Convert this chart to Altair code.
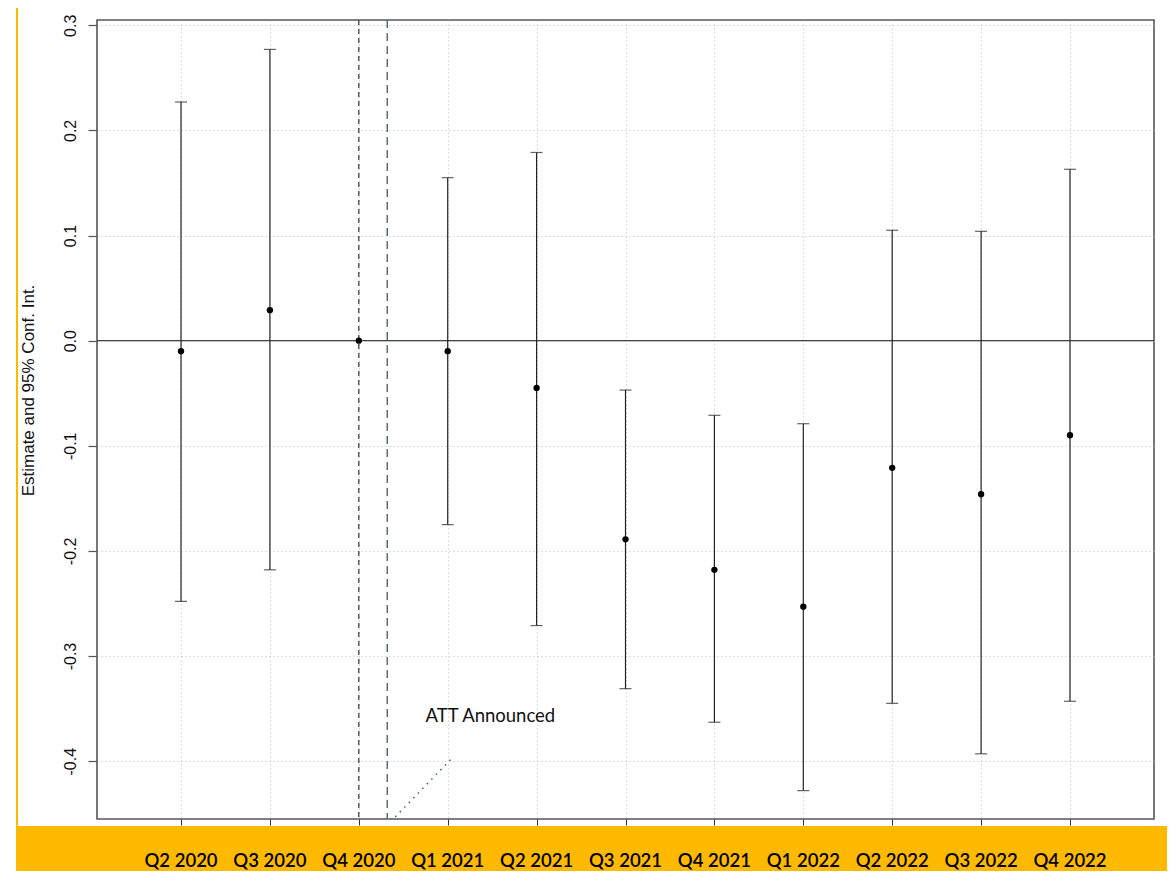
import altair as alt
import pandas as pd
import numpy as np

# ---- data ----
periods = ["Q2 2020", "Q3 2020", "Q4 2020", "Q1 2021", "Q2 2021", "Q3 2021",
           "Q4 2021", "Q1 2022", "Q2 2022", "Q3 2022", "Q4 2022"]
estimate = [-0.010, 0.029, 0.000, -0.010, -0.045, -0.189, -0.218, -0.253, -0.121, -0.146, -0.090]
lower = [-0.248, -0.218, np.nan, -0.175, -0.271, -0.331, -0.363, -0.428, -0.345, -0.393, -0.343]
upper = [0.227, 0.277, np.nan, 0.155, 0.179, -0.047, -0.071, -0.079, 0.105, 0.104, 0.163]
y_ticks = [-0.4, -0.3, -0.2, -0.1, 0.0, 0.1, 0.2, 0.3]

ref_period_idx = [2.0]          # Q4 2020 reference line
att_idx = [2.32]                # ATT announcement line
ann_text = ["ATT Announced"]
ann_pos = [(3.48, -0.357)]
ann_line = [(2.41, -0.453), (3.05, -0.397)]

df = pd.DataFrame({"idx": list(range(len(periods))), "period": periods,
                   "est": estimate, "lo": lower, "hi": upper})
ci = df.dropna()

W, H = 1057, 799
x_dom = [-0.945, 10.945]
y_dom = [-0.455, 0.305]

xs = alt.Scale(domain=x_dom, nice=False, zero=False)
ys = alt.Scale(domain=y_dom, nice=False, zero=False)

x_axis = alt.Axis(values=list(range(len(periods))), labels=False, title=None,
                  domain=False, tickSize=6, tickColor="#333", tickWidth=1,
                  grid=True, gridColor="#bdbdbd", gridDash=[1, 3], gridWidth=1)
y_axis = alt.Axis(values=y_ticks, title="Estimate and 95% Conf. Int.",
                  labelExpr="replace(format(datum.value, '.1f'), '\u2212', '-')",
                  labelAngle=270, labelAlign="center", labelBaseline="bottom",
                  labelPadding=10, labelFont="Liberation Sans", labelFontSize=16,
                  labelColor="#111",
                  domain=False, tickSize=9, tickColor="#555", tickWidth=1.2,
                  grid=True, gridColor="#bdbdbd", gridDash=[1, 3], gridWidth=1,
                  titleFont="Liberation Sans", titleFontSize=17, titleFontWeight="normal",
                  titleColor="#111", titleAngle=270, titleAlign="center",
                  titleBaseline="bottom", titleX=-60, titleY=370)

base = alt.Chart(df)

yellow = "#FFB900"
band = alt.Chart(pd.DataFrame({"k": [0]})).mark_rect(color=yellow, clip=False).encode(
    x=alt.value(-81), x2=alt.value(W + 13), y=alt.value(806), y2=alt.value(851))
vline_left = alt.Chart(pd.DataFrame({"k": [0]})).mark_rect(color=yellow, clip=False).encode(
    x=alt.value(-81), x2=alt.value(-79), y=alt.value(-12), y2=alt.value(851))

zero = alt.Chart(pd.DataFrame({"y": [0.0]})).mark_rule(color="#444", strokeWidth=1.3).encode(
    y=alt.Y("y:Q", scale=ys, axis=y_axis))

ref1 = alt.Chart(pd.DataFrame({"x": ref_period_idx})).mark_rule(
    color="#444", strokeDash=[5, 4], strokeWidth=1.3).encode(
    x=alt.X("x:Q", scale=xs, axis=x_axis))
ref2 = alt.Chart(pd.DataFrame({"x": att_idx})).mark_rule(
    color="#5a6a85", strokeDash=[8, 5], strokeWidth=1.5).encode(
    x=alt.X("x:Q", scale=xs))

ann_df = pd.DataFrame({"x": [p[0] for p in ann_line], "y": [p[1] for p in ann_line]})
ann_l = alt.Chart(ann_df).mark_line(color="#4a5a70", strokeDash=[1.5, 5], strokeWidth=1.5).encode(
    x=alt.X("x:Q", scale=xs), y=alt.Y("y:Q", scale=ys))
ann_t = alt.Chart(pd.DataFrame({"x": [ann_pos[0][0]], "y": [ann_pos[0][1]], "t": ann_text})).mark_text(
    font="Lato", fontSize=18.5, color="#111", align="center", baseline="middle").encode(
    x=alt.X("x:Q", scale=xs), y=alt.Y("y:Q", scale=ys), text="t:N")

bars = alt.Chart(ci).mark_rule(color="#222", strokeWidth=1.2).encode(
    x=alt.X("idx:Q", scale=xs), y=alt.Y("lo:Q", scale=ys), y2="hi:Q")
cap_hi = alt.Chart(ci).mark_tick(color="#222", thickness=1.2, size=12, orient="horizontal").encode(
    x=alt.X("idx:Q", scale=xs), y=alt.Y("hi:Q", scale=ys))
cap_lo = alt.Chart(ci).mark_tick(color="#222", thickness=1.2, size=12, orient="horizontal").encode(
    x=alt.X("idx:Q", scale=xs), y=alt.Y("lo:Q", scale=ys))
pts = base.mark_circle(color="#000", size=40, opacity=1).encode(
    x=alt.X("idx:Q", scale=xs), y=alt.Y("est:Q", scale=ys))

xlabels = base.mark_text(font="Lato", fontSize=18.5, fontWeight=600, color="#000",
                         align="center", baseline="middle", clip=False).encode(
    x=alt.X("idx:Q", scale=xs), y=alt.value(841), text="period:N")

chart = alt.layer(band, vline_left, zero, ref1, ref2, ann_l, ann_t, bars, cap_hi, cap_lo, pts, xlabels
).properties(
    width=W, height=H,
    autosize=alt.AutoSizeParams(type="none"),
    padding={"left": 89, "top": 12, "right": 13, "bottom": 52},
    background="white",
).configure_view(stroke="#555", strokeWidth=1.6)

chart.save("out.html", embed_options={"renderer": "svg", "actions": False})
